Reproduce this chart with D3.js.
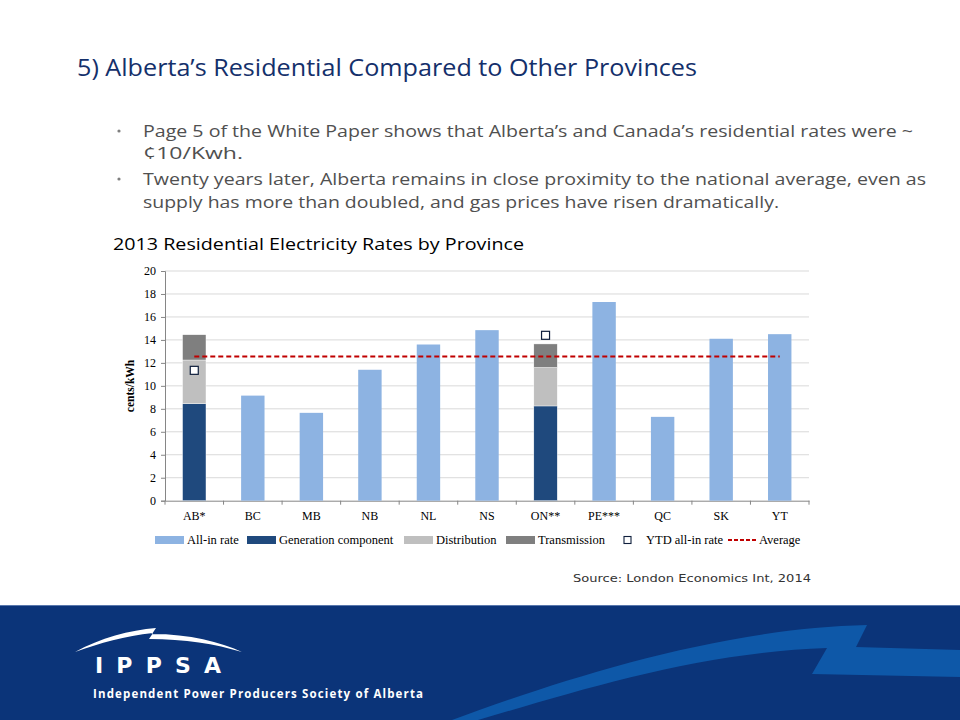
<!DOCTYPE html>
<html>
<head>
<meta charset="utf-8">
<script src="https://cdn.jsdelivr.net/npm/d3@7"></script>
<style>
  body { margin: 0; background: #fff; }
  svg { display: block; }
  .tick text { font-family: "Liberation Serif", "DejaVu Serif", serif; }
</style>
</head>
<body>
<svg id="chart" width="960" height="720"></svg>
<script>
// 2013 residential rates, cents/kWh
const provinces = ['AB*', 'BC', 'MB', 'NB', 'NL', 'NS', 'ON**', 'PE***', 'QC', 'SK', 'YT'];
const allInRate = [null, 9.15, 7.65, 11.4, 13.6, 14.85, null, 17.3, 7.3, 14.1, 14.5];
const generation = [8.45, null, null, null, null, null, 8.25, null, null, null, null];
const distribution = [3.8, null, null, null, null, null, 3.35, null, null, null, null];
const transmission = [2.2, null, null, null, null, null, 2.05, null, null, null, null];
const ytdRate = [11.35, null, null, null, null, null, 14.4, null, null, null, null];
const averageRate = 12.55;
const yTicks = [0, 2, 4, 6, 8, 10, 12, 14, 16, 18, 20];

const legendItems = [
  { label: 'All-in rate', type: 'rect', color: '#8DB3E2', x: 155 },
  { label: 'Generation component', type: 'rect', color: '#1F497D', x: 247 },
  { label: 'Distribution', type: 'rect', color: '#BFBFBF', x: 404 },
  { label: 'Transmission', type: 'rect', color: '#7F7F7F', x: 506 },
  { label: 'YTD all-in rate', type: 'square', color: '#fff', x: 623 },
  { label: 'Average', type: 'dash', color: '#C00000', x: 728 }
];

const svg = d3.select('#chart');

// ---- slide text ----
svg.append('text')
  .attr('x', 77).attr('y', 76)
  .attr('font-family', 'Open Sans, Lato, sans-serif')
  .attr('font-size', 23)
  .attr('fill', '#14306B')
  .attr('textLength', 620).attr('lengthAdjust', 'spacingAndGlyphs')
  .text('5) Alberta\u2019s Residential Compared to Other Provinces');

const bullets = [
  { text: 'Page 5 of the White Paper shows that Alberta\u2019s and Canada\u2019s residential rates were ~', y: 137, len: 770, dot: true },
  { text: '\u00A210/Kwh.', y: 159, len: 100, dot: false },
  { text: 'Twenty years later, Alberta remains in close proximity to the national average, even as', y: 185, len: 783, dot: true },
  { text: 'supply has more than doubled, and gas prices have risen dramatically.', y: 208, len: 636, dot: false }
];

bullets.forEach(b => {
  if (b.dot) {
    svg.append('circle')
      .attr('cx', 119).attr('cy', b.y - 6).attr('r', 1.6)
      .attr('fill', '#7F7F7F');
  }
  svg.append('text')
    .attr('x', 143).attr('y', b.y)
    .attr('font-family', 'Open Sans, Lato, sans-serif')
    .attr('font-size', 16.5)
    .attr('fill', '#505050')
    .attr('textLength', b.len).attr('lengthAdjust', 'spacingAndGlyphs')
    .text(b.text);
});

svg.append('text')
  .attr('x', 113).attr('y', 250)
  .attr('font-family', 'Open Sans, Lato, sans-serif')
  .attr('font-size', 17)
  .attr('fill', '#000')
  .attr('textLength', 411).attr('lengthAdjust', 'spacingAndGlyphs')
  .text('2013 Residential Electricity Rates by Province');

// ---- chart ----
const x = d3.scaleBand()
  .domain(provinces)
  .range([165, 809])
  .paddingInner(0.6)
  .paddingOuter(0.3);

const y = d3.scaleLinear()
  .domain([0, 20])
  .range([500.7, 271]);

const bw = x.bandwidth();
const cx = d => x(d) + bw / 2;

// gridlines
svg.append('g')
  .selectAll('line')
  .data(yTicks.filter(t => t > 0))
  .enter()
  .append('line')
  .attr('x1', 165).attr('x2', 809)
  .attr('y1', d => y(d)).attr('y2', d => y(d))
  .attr('stroke', '#D9D9D9')
  .attr('stroke-width', 1);

// y axis
const yAxis = svg.append('g')
  .attr('transform', 'translate(165,0)')
  .call(d3.axisLeft(y).tickValues(yTicks).tickSize(4).tickPadding(5));
yAxis.select('.domain').attr('stroke', '#868686');
yAxis.selectAll('.tick line').attr('stroke', '#868686');
yAxis.selectAll('.tick text').attr('font-size', 12).attr('fill', '#000');

// x axis (labels centred under bars, ticks between categories)
const xAxis = svg.append('g')
  .attr('transform', `translate(0,${y(0)})`)
  .call(d3.axisBottom(x).tickSize(0).tickPadding(11));
xAxis.select('.domain').attr('stroke', '#868686');
xAxis.selectAll('.tick text').attr('font-size', 12).attr('fill', '#000');

const boundaries = provinces.map(p => x(p) - x.step() * x.paddingOuter()).concat([809]);
svg.append('g')
  .selectAll('line')
  .data(boundaries)
  .enter()
  .append('line')
  .attr('x1', d => d).attr('x2', d => d)
  .attr('y1', y(0)).attr('y2', y(0) + 4)
  .attr('stroke', '#868686');

// all-in rate bars
const allInData = provinces.map((p, i) => ({ province: p, value: allInRate[i] }))
  .filter(d => d.value != null);

svg.append('g')
  .selectAll('rect')
  .data(allInData)
  .enter()
  .append('rect')
  .attr('x', d => x(d.province))
  .attr('y', d => y(d.value))
  .attr('width', bw)
  .attr('height', d => y(0) - y(d.value))
  .attr('fill', '#8DB3E2');

// stacked component bars
const componentRows = provinces.map((p, i) => ({
  province: p,
  generation: generation[i] || 0,
  distribution: distribution[i] || 0,
  transmission: transmission[i] || 0
})).filter(d => d.generation > 0);

const componentColors = { generation: '#1F497D', distribution: '#BFBFBF', transmission: '#7F7F7F' };
const stack = d3.stack().keys(['generation', 'distribution', 'transmission']);

svg.append('g')
  .selectAll('g')
  .data(stack(componentRows))
  .enter()
  .append('g')
  .attr('fill', s => componentColors[s.key])
  .selectAll('rect')
  .data(s => s)
  .enter()
  .append('rect')
  .attr('x', d => x(d.data.province))
  .attr('y', d => y(d[1]))
  .attr('width', bw)
  .attr('height', d => y(d[0]) - y(d[1]))
  .attr('stroke', '#fff')
  .attr('stroke-width', 0.4);

// average line
svg.append('line')
  .attr('x1', cx(provinces[0]))
  .attr('x2', cx(provinces[provinces.length - 1]))
  .attr('y1', y(averageRate)).attr('y2', y(averageRate))
  .attr('stroke', '#C00000')
  .attr('stroke-width', 2)
  .attr('stroke-dasharray', '5,3');

// YTD markers
const ytdData = provinces.map((p, i) => ({ province: p, value: ytdRate[i] }))
  .filter(d => d.value != null);

svg.append('g')
  .selectAll('rect')
  .data(ytdData)
  .enter()
  .append('rect')
  .attr('x', d => cx(d.province) - 4)
  .attr('y', d => y(d.value) - 4)
  .attr('width', 8).attr('height', 8)
  .attr('fill', '#fff')
  .attr('stroke', '#0F1F3D')
  .attr('stroke-width', 1.2);

// y axis title
svg.append('text')
  .attr('transform', 'translate(134,386) rotate(-90)')
  .attr('text-anchor', 'middle')
  .attr('font-family', 'Liberation Serif, DejaVu Serif, serif')
  .attr('font-weight', 'bold')
  .attr('font-size', 11.5)
  .attr('fill', '#000')
  .text('cents/kWh');

// legend
const legend = svg.append('g').attr('transform', 'translate(0,540)');
legendItems.forEach(item => {
  let textX;
  if (item.type === 'rect') {
    legend.append('rect')
      .attr('x', item.x).attr('y', -4)
      .attr('width', 29).attr('height', 8)
      .attr('fill', item.color);
    textX = item.x + 32;
  } else if (item.type === 'square') {
    legend.append('rect')
      .attr('x', item.x + 1).attr('y', -3.5)
      .attr('width', 7).attr('height', 7)
      .attr('fill', '#fff')
      .attr('stroke', '#0F1F3D')
      .attr('stroke-width', 1.1);
    textX = item.x + 23;
  } else {
    legend.append('line')
      .attr('x1', item.x).attr('x2', item.x + 29)
      .attr('y1', 0).attr('y2', 0)
      .attr('stroke', item.color)
      .attr('stroke-width', 2)
      .attr('stroke-dasharray', '4,2');
    textX = item.x + 31;
  }
  legend.append('text')
    .attr('x', textX).attr('y', 4)
    .attr('font-family', 'Liberation Serif, DejaVu Serif, serif')
    .attr('font-size', 12.5)
    .attr('fill', '#000')
    .text(item.label);
});

// source
svg.append('text')
  .attr('x', 573).attr('y', 582)
  .attr('font-family', 'DejaVu Sans, Verdana, sans-serif')
  .attr('font-size', 11)
  .attr('fill', '#333')
  .attr('textLength', 238).attr('lengthAdjust', 'spacingAndGlyphs')
  .text('Source:  London Economics Int, 2014');

// ---- footer banner ----
svg.append('rect')
  .attr('x', 0).attr('y', 605)
  .attr('width', 960).attr('height', 115)
  .attr('fill', '#0B3479');
svg.append('line')
  .attr('x1', 0).attr('x2', 960)
  .attr('y1', 605.5).attr('y2', 605.5)
  .attr('stroke', '#5877AC');

// swoosh
svg.append('path')
  .attr('d', 'M452,720 C560,680 720,628 867,625 L856,647 L960,650 L960,677 L812,674 L827,648 C700,652 580,690 478,720 Z')
  .attr('fill', '#0E58A8');

// logo arc
svg.append('path')
  .attr('d', 'M75,652 C100,638 130,630 156,628 L152,634 C190,634 220,642 242,652 C215,644 185,639 149,639 L153,633 C125,636 100,643 75,652 Z')
  .attr('fill', '#fff');

svg.append('text')
  .attr('x', 95).attr('y', 673)
  .attr('font-family', 'DejaVu Sans, sans-serif')
  .attr('font-weight', 'bold')
  .attr('font-size', 22)
  .attr('fill', '#fff')
  .attr('textLength', 126).attr('lengthAdjust', 'spacing')
  .text('IPPSA');

svg.append('text')
  .attr('x', 93).attr('y', 698)
  .attr('font-family', 'Open Sans, DejaVu Sans, sans-serif')
  .attr('font-weight', 'bold')
  .attr('font-size', 11.5)
  .attr('fill', '#fff')
  .attr('textLength', 330).attr('lengthAdjust', 'spacing')
  .text('Independent Power Producers Society of Alberta');
</script>
</body>
</html>
